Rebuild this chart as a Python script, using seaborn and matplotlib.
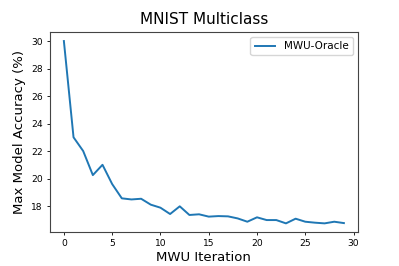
import numpy as np
import pandas as pd
import matplotlib
matplotlib.use("Agg")
import matplotlib.pyplot as plt
import seaborn as sns

# MWU iterations and max model accuracy (%)
iterations = list(range(30))
max_accuracy = [30.0, 23.0, 22.0, 20.25, 21.0, 19.6, 18.56, 18.48, 18.53, 18.1,
                17.88, 17.42, 17.98, 17.35, 17.4, 17.23, 17.27, 17.25, 17.1, 16.86,
                17.18, 16.98, 16.98, 16.74, 17.08, 16.86, 16.79, 16.74, 16.86, 16.76]
series_name = "MWU-Oracle"

df = pd.DataFrame({"iteration": iterations, "accuracy": max_accuracy,
                   "method": series_name})

fig = plt.figure(figsize=(3.99, 2.66), dpi=100)
ax = fig.add_axes([0.125, 0.126, 0.772, 0.754])

sns.lineplot(data=df, x="iteration", y="accuracy", hue="method",
             palette=["#1f77b4"], linewidth=1.4, ax=ax)

ax.set_xticks([0, 5, 10, 15, 20, 25, 30])
ax.set_yticks([18, 20, 22, 24, 26, 28, 30])
ax.tick_params(labelsize=6.6, length=2.5, width=0.6, pad=2.5)
for s in ax.spines.values():
    s.set_linewidth(0.8)
    s.set_color("#444444")

ax.set_title("MNIST Multiclass", fontsize=11)
ax.set_xlabel("MWU Iteration", fontsize=9.5, labelpad=1.5)
ax.set_ylabel("Max Model Accuracy (%)", fontsize=9.5, labelpad=4)
ax.legend(title=None, loc="upper right", fontsize=7.5)

plt.savefig("out.png", dpi=100)
plt.close()
